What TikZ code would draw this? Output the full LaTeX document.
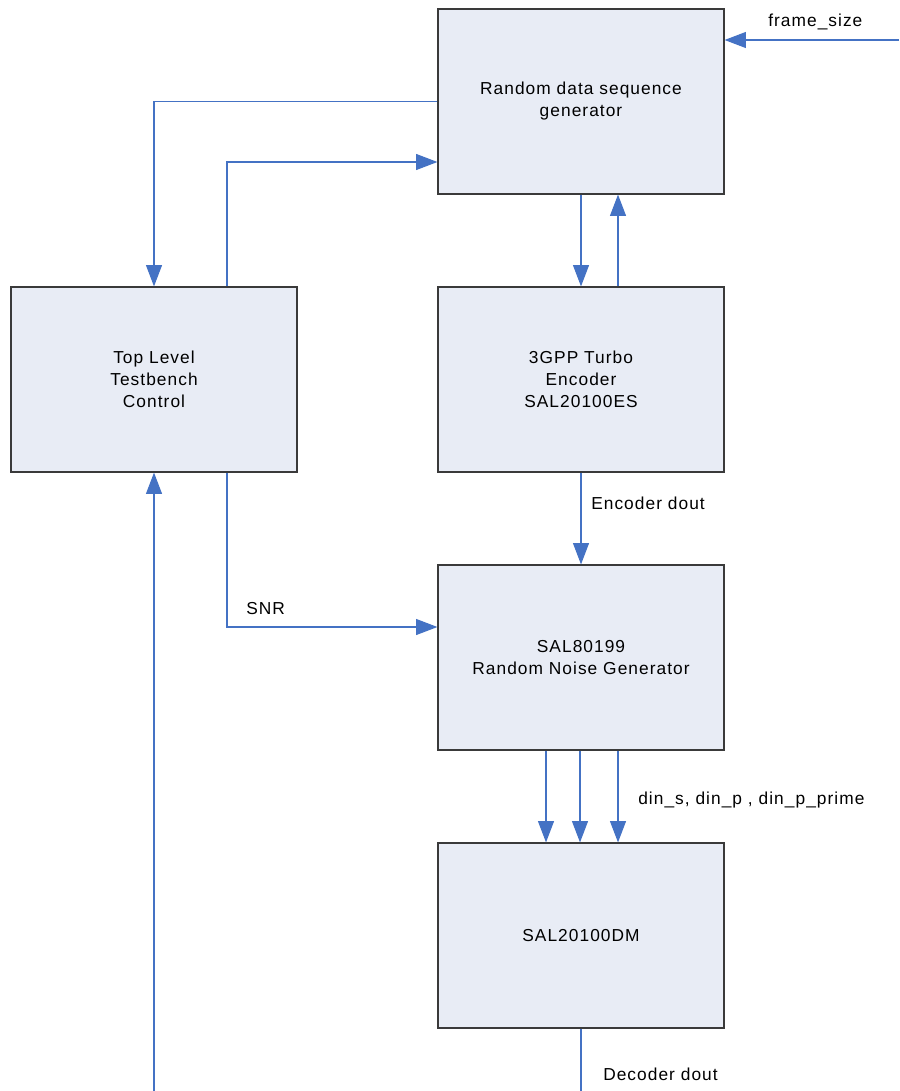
\documentclass[tikz,border=0pt]{standalone}
\usepackage{fontspec}
\setmainfont{Liberation Sans}[LetterSpace=6]
\usetikzlibrary{calc,arrows.meta}
\definecolor{boxfill}{HTML}{E8ECF5}
\definecolor{boxline}{HTML}{3A3A3A}
\definecolor{wire}{HTML}{4472C4}
\tikzstyle{block} = [rectangle, minimum width=214.5pt, minimum height=138.75pt, inner sep=0pt, text centered, align=center, draw=boxline, line width=0.9pt, fill=boxfill, font=\fontsize{13pt}{16.5pt}\selectfont]
\tikzstyle{arrow} = [draw=wire, line width=0.8pt, -{Triangle[length=16pt,width=12pt]}]
\tikzstyle{wirelabel} = [font=\fontsize{13pt}{16.5pt}\selectfont, inner sep=0pt]

\begin{document}
\begin{tikzpicture}[x=0.75pt, y=-0.75pt]
\useasboundingbox (0,0) rectangle (899,1091);
%nodes
\node (rdsg) [block] at (581,101.5) {Random data sequence\\generator};
\node (enc) [block] at (581,379.5) {3GPP Turbo\\Encoder\\SAL20100ES};
\node (tltc) [block] at (154,379.5) {Top Level\\Testbench\\Control};
\node (noise) [block] at (581,657.5) {SAL80199\\Random Noise Generator};
\node (dm) [block] at (581,935.5) {SAL20100DM};

%free ends
\coordinate (fsin) at (899,40);
\coordinate (dout) at (581,1091);
\coordinate (tbin) at (154,1091);

%labels
\node[wirelabel, anchor=west] (fslab) at (768,22) {frame\_size};
\node[wirelabel, anchor=west] (enclab) at (591,503) {Encoder dout};
\node[wirelabel, anchor=west] (snrlab) at (246,609) {SNR};
\node[wirelabel, anchor=west] (dinlab) at (638,800) {din\_s, din\_p , din\_p\_prime};
\node[wirelabel, anchor=west] (declab) at (603,1074) {Decoder dout};

%arrows
\draw [arrow] (fsin) -- (rdsg.east |- fsin);
\draw [arrow] (rdsg.west) -| (tltc.north);
\draw [arrow] ($(tltc.north)+(73,0)$) |- ($(rdsg.west)+(0,60.5)$);
%encoder
\draw [arrow] (rdsg.south) -- (enc.north);
\draw [arrow] ($(enc.north)+(37,0)$) -- ($(rdsg.south)+(37,0)$);
\draw [arrow] (enc.south) -- (noise.north);
%noise
\draw [arrow] ($(tltc.south)+(73,0)$) |- ($(noise.west)+(0,-30.5)$);
\foreach \dx in {-35,-1,37}
  \draw [arrow] ($(noise.south)+(\dx,0)$) -- ($(dm.north)+(\dx,0)$);
%decoder
\draw [draw=wire, line width=0.8pt] (dm.south) -- (dout);
\draw [arrow] (tbin) -- (tltc.south);
\end{tikzpicture}
\end{document}
